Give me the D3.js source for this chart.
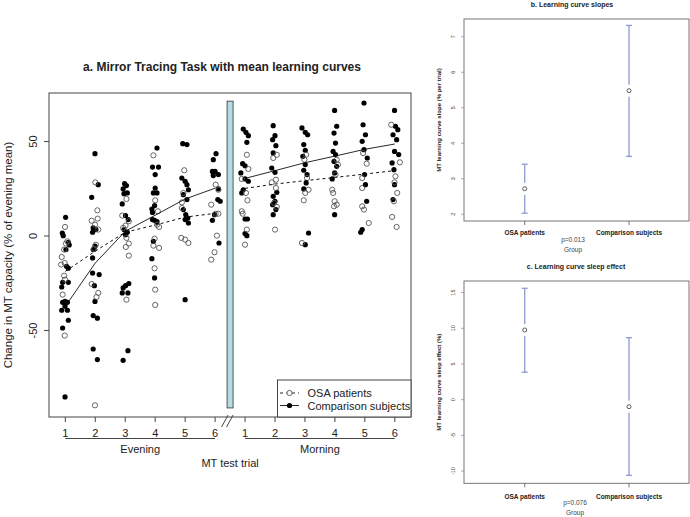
<!DOCTYPE html>
<html>
<head>
<meta charset="utf-8">
<script src="https://cdn.jsdelivr.net/npm/d3@7"></script>
<style>
  body { margin: 0; background: #fff; }
  text { font-family: "Liberation Sans", Arial, sans-serif; fill: #222; }
</style>
</head>
<body>
<svg id="chart" width="690" height="517"></svg>
<script>
// Trial positions: 1-6 evening, 7-12 morning
const trialPos = [1, 2, 3, 4, 5, 6, 7, 8, 9, 10, 11, 12];
const trialLabels = ["1", "2", "3", "4", "5", "6", "1", "2", "3", "4", "5", "6"];
const sessions = ["Evening", "Morning"];
const yTicksMain = [-50, 0, 50];

// Mean learning curves (% of evening mean)
const osaMean = [-18.7, -8, 2.0, 5.8, 10, 12, 25.2, 27.5, 29.3, 31, 32.8, 34.6];
const compMean = [-37.2, -14.3, 2.5, 11, 19.6, 25.3, 30.5, 34.6, 38.8, 42.3, 45.9, 48.7];

// Individual points [jittered trial, value]
const osaPts = [
  [0.99,4.8],[1.07,-2.8],[1.02,-4],[0.96,-7.2],[0.88,-11.1],[0.86,-15.1],[0.98,-14.3],[0.96,-21],[0.99,-23.1],[0.91,-31],[0.98,-52.7],
  [2.0,28.4],[2.07,13.6],[2.08,9.2],[1.88,8.1],[2.10,3.4],[1.99,6],[2.02,-4.6],[1.96,-6.9],[2.10,-30.1],[2.04,-32.3],[1.88,-25.4],[1.99,-89.6],
  [3.04,19.6],[2.90,10.8],[3.12,7.8],[3.01,5.5],[2.93,4.3],[3.04,-1],[3.12,-4],[3.02,-5.8],[3.12,-10.4],[3.04,-33.7],
  [3.94,42.7],[4.0,18.9],[4.09,13.1],[4.06,6],[4.13,4.8],[3.98,-1.4],[3.94,-5.1],[4.13,-6.3],[3.98,-17.1],[4.0,-28.4],[4.0,-36.5],
  [4.97,34.8],[4.94,22.8],[4.89,17.8],[4.89,14.8],[4.87,-1],[5.0,-1.9],[5.11,-3.7],
  [6.02,27.2],[6.11,24.5],[5.87,16.6],[6.02,11.8],[6.11,11.8],[6.06,0.2],[5.98,-8.6],[5.87,-12.5],
  [7.06,43],[7.11,35.5],[6.89,30.2],[7.03,22.8],[7.08,18.9],[6.89,13.1],[6.92,11.8],[7.06,3.4],[7.0,-4.6],
  [7.94,41.3],[8.06,43],[8.03,29.8],[7.89,28.4],[8.03,25.4],[7.97,17.5],[8.06,15.4],[8.0,3.4],
  [9.04,43],[8.98,40.4],[9.07,30.7],[9.12,24.5],[9.01,22.8],[8.96,18.9],[8.9,-3.7],
  [10.06,40.4],[10.1,37.8],[10.02,32.5],[9.91,24.5],[9.94,22.8],[9.99,18.4],[10.06,16.6],[9.97,15.7],
  [10.94,43.9],[11.06,38.3],[10.91,30.7],[10.91,25.4],[10.91,15.7],[10.97,14],[11.13,6.9],
  [11.88,58.9],[12.17,39],[12.02,31.6],[11.99,28.4],[11.97,18.4],[12.08,22.8],[11.91,10.1],[12.06,4.8]
];
const compPts = [
  [1.01,9.9],[0.90,1.6],[0.93,0.2],[1.10,-3.3],[1.13,-4.7],[1.02,-7.2],[1.04,-16],[1.10,-17],[0.91,-24.5],[1.10,-24.5],[0.88,-27],[0.99,-34.6],[0.91,-35.1],[1.07,-35.1],[0.99,-37.2],[0.88,-39.3],[1.07,-39.3],[1.10,-44.6],[0.91,-48.7],[0.99,-85.2],
  [1.99,43.6],[2.10,27.2],[1.88,20.5],[1.93,4.3],[2.02,3.4],[1.91,2],[1.99,-5.4],[1.93,-7.2],[1.91,-11.6],[1.91,-19.6],[2.13,-20.4],[1.97,-26.3],[1.99,-34.6],[1.93,-42.1],[2.07,-43.5],[1.93,-59.8],[2.07,-65.4],
  [2.98,27.7],[3.04,26.7],[2.93,24.9],[3.07,22.8],[2.96,22.4],[2.90,17],[3.01,10.8],[3.10,8.7],[2.96,3.4],[3.07,2],[3.01,0.7],[2.93,-27.5],[3.01,-26.3],[3.12,-25.2],[2.90,-30.1],[3.09,-30.1],[3.09,-60.7],[2.93,-65.8],
  [4.06,46.6],[3.91,36.5],[4.11,36.5],[4.0,32.5],[4.0,25.4],[3.94,22.8],[4.06,22.8],[3.98,16.1],[3.89,14.3],[3.91,12.5],[3.91,8.7],[3.98,8.3],[4.06,7.6],[3.94,-2.8],[3.89,-12],[3.98,-22.2],
  [4.92,48.9],[5.06,48.4],[4.89,30.7],[5.0,29],[5.06,27.2],[5.11,24.5],[4.94,21.9],[5.06,19.3],[4.94,14],[5.02,11.3],[5.09,9.5],[5.0,8.7],[5.11,6.9],[5.0,-33.7],
  [6.03,43.6],[5.94,40.4],[5.91,34.2],[6.0,34.2],[6.11,32.5],[5.94,32],[6.11,24.9],[6.09,19.3],[6.17,18.4],[5.98,11.3],[5.91,8.3],[6.13,-3.7],
  [6.94,56.6],[7.03,54.9],[7.11,53.1],[7.06,49.6],[6.92,38.3],[7.0,37.2],[6.86,33.4],[7.0,30.2],[7.11,29],[6.94,24.5],[6.89,22.8],[7.0,9],[7.08,9],[7.0,1.3],[7.06,0.2],
  [7.94,58.4],[8.0,53.1],[7.92,51],[8.03,47.8],[7.94,44],[7.89,36],[8.0,33.7],[8.06,23.1],[7.94,21],[8.0,18.4],[7.92,16.6],[8.03,14],[7.94,11.3],
  [8.9,57.2],[9.01,54.9],[9.09,53.6],[8.96,48.4],[9.01,45.4],[8.93,42.2],[9.01,37.8],[8.96,34.8],[9.07,32.5],[9.04,28.1],[8.96,24.9],[9.12,1.6],[9.01,-4.6],
  [9.99,66.5],[10.06,58.1],[9.97,54.5],[10.02,49.2],[9.94,44.8],[10.02,43.1],[9.97,39.5],[10.06,36.9],[9.99,33.4],[9.91,30.2],[9.99,11.3],
  [10.97,70.4],[10.94,58.9],[11.02,53.6],[10.91,50.1],[10.97,45.7],[11.08,41.3],[10.99,32.5],[11.02,27.2],[11.06,18.4],[10.91,3.4],[10.86,2],
  [11.99,66.5],[12.02,58.1],[12.1,56.3],[11.94,53.6],[12.06,51],[11.99,44.8],[12.13,43.1],[11.91,38.7],[11.97,35.1],[11.99,27.2],[11.94,19.3]
];

// Panel b / c: group means with confidence intervals
const groups = ["OSA patients", "Comparison subjects"];
const slopeMean = [2.72, 5.48];
const slopeLow = [2.03, 3.63];
const slopeHigh = [3.41, 7.32];
const sleepMean = [9.76, -0.98];
const sleepLow = [3.84, -10.6];
const sleepHigh = [15.6, 8.68];

const svg = d3.select("#chart");

// ---------- a. main panel ----------
const x = d3.scaleLinear().domain([0.455, 12.54]).range([49, 411]);
const y = d3.scaleLinear().domain([-95.8, 75.7]).range([417, 93]);

svg.append("text")
    .attr("x", 222).attr("y", 71)
    .attr("text-anchor", "middle")
    .style("font-size", "12px").style("font-weight", "bold")
    .text("a. Mirror Tracing Task with mean learning curves");

const main = svg.append("g");

// session break bar
main.append("rect")
    .attr("x", x(6.5) - 3).attr("width", 6)
    .attr("y", y(71.4)).attr("height", y(-91) - y(71.4))
    .attr("fill", "#b3dde2").attr("stroke", "#333").attr("stroke-width", 0.8);

// points
main.selectAll("circle.comp")
    .data(compPts)
    .join("circle")
    .attr("class", "comp")
    .attr("cx", d => x(d[0])).attr("cy", d => y(d[1]))
    .attr("r", 2.6).attr("fill", "#000");

main.selectAll("circle.osa")
    .data(osaPts)
    .join("circle")
    .attr("class", "osa")
    .attr("cx", d => x(d[0])).attr("cy", d => y(d[1]))
    .attr("r", 2.6).attr("fill", "none")
    .attr("stroke", "#555").attr("stroke-width", 0.9);

// mean curves, drawn separately for evening and morning
const line = d3.line().x(d => x(d[0])).y(d => y(d[1]));
[[0, 6], [6, 12]].forEach(([a, b]) => {
    main.append("path")
        .attr("d", line(trialPos.slice(a, b).map((t, i) => [t, compMean[a + i]])))
        .attr("fill", "none").attr("stroke", "#111").attr("stroke-width", 0.9);
    main.append("path")
        .attr("d", line(trialPos.slice(a, b).map((t, i) => [t, osaMean[a + i]])))
        .attr("fill", "none").attr("stroke", "#111").attr("stroke-width", 1)
        .attr("stroke-dasharray", "3,3");
});

// frame
main.append("rect")
    .attr("x", 49).attr("y", 93).attr("width", 362).attr("height", 324)
    .attr("fill", "none").attr("stroke", "#444").attr("stroke-width", 1);

// y axis
yTicksMain.forEach(v => {
    main.append("line")
        .attr("x1", 44).attr("x2", 49).attr("y1", y(v)).attr("y2", y(v))
        .attr("stroke", "#444");
    main.append("text")
        .attr("transform", `translate(37,${y(v)}) rotate(-90)`)
        .attr("text-anchor", "middle")
        .style("font-size", "11px")
        .text(v);
});
svg.append("text")
    .attr("transform", "translate(12,255) rotate(-90)")
    .attr("text-anchor", "middle")
    .style("font-size", "11.5px")
    .text("Change in MT capacity (% of evening mean)");

// x axis
trialPos.forEach((t, i) => {
    main.append("line")
        .attr("x1", x(t)).attr("x2", x(t)).attr("y1", 417).attr("y2", 422)
        .attr("stroke", "#444");
    main.append("text")
        .attr("x", x(t)).attr("y", 437)
        .attr("text-anchor", "middle")
        .style("font-size", "11px")
        .text(trialLabels[i]);
});
sessions.forEach((s, i) => {
    const a = trialPos[i * 6], b = trialPos[i * 6 + 5];
    main.append("line")
        .attr("x1", x(a)).attr("x2", x(b)).attr("y1", 438.5).attr("y2", 438.5)
        .attr("stroke", "#444");
    main.append("text")
        .attr("x", x((a + b) / 2)).attr("y", 452.5)
        .attr("text-anchor", "middle")
        .style("font-size", "11px")
        .text(s);
});
svg.append("text")
    .attr("x", x(6.5)).attr("y", 467)
    .attr("text-anchor", "middle")
    .style("font-size", "11px")
    .text("MT test trial");

// axis break marks
const xc = x(6.5);
[[-8.5, -2], [-3.5, 3]].forEach(([a, b]) => {
    main.append("line")
        .attr("x1", xc + a).attr("y1", 427).attr("x2", xc + b).attr("y2", 415)
        .attr("stroke", "#333").attr("stroke-width", 0.9);
});

// legend
const leg = main.append("g");
leg.append("rect")
    .attr("x", 277.5).attr("y", 380).attr("width", 133.5).attr("height", 37)
    .attr("fill", "#fff").attr("stroke", "#444");
const legItems = [
    { label: "OSA patients", dash: "3,3", fill: "none", stroke: "#555", yy: 393 },
    { label: "Comparison subjects", dash: null, fill: "#000", stroke: "none", yy: 405.5 }
];
legItems.forEach(d => {
    leg.append("line")
        .attr("x1", 280).attr("x2", 299).attr("y1", d.yy).attr("y2", d.yy)
        .attr("stroke", "#111").attr("stroke-width", 0.9)
        .attr("stroke-dasharray", d.dash);
    leg.append("circle")
        .attr("cx", 289.5).attr("cy", d.yy).attr("r", 2.6)
        .attr("fill", d.fill === "none" ? "#fff" : d.fill)
        .attr("stroke", d.stroke).attr("stroke-width", 0.9);
    leg.append("text")
        .attr("x", 307.5).attr("y", d.yy + 4)
        .style("font-size", "11px")
        .text(d.label);
});

// ---------- b / c. CI panels ----------
function ciPanel(opts) {
    const g = svg.append("g");
    const px = d3.scaleLinear().domain([0.418, 2.575]).range([464, 689]);
    const py = d3.scaleLinear().domain(opts.domain).range([opts.bottom, opts.top]);

    g.append("text")
        .attr("x", opts.titleX).attr("y", opts.titleY)
        .attr("text-anchor", "middle")
        .style("font-size", "7px").style("font-weight", "bold")
        .text(opts.title);

    g.append("rect")
        .attr("x", 464).attr("y", opts.top)
        .attr("width", 225).attr("height", opts.bottom - opts.top)
        .attr("fill", "none").attr("stroke", "#666").attr("stroke-width", 0.9);

    opts.ticks.forEach(v => {
        g.append("line")
            .attr("x1", 461).attr("x2", 464).attr("y1", py(v)).attr("y2", py(v))
            .attr("stroke", "#777").attr("stroke-width", 0.6);
        g.append("text")
            .attr("transform", `translate(455,${py(v)}) rotate(-90)`)
            .attr("text-anchor", "middle")
            .style("font-size", "5.5px").style("fill", "#444")
            .text(v);
    });

    g.append("text")
        .attr("transform", `translate(441,${(opts.top + opts.bottom) / 2}) rotate(-90)`)
        .attr("text-anchor", "middle")
        .style("font-size", "6px").style("font-weight", "bold")
        .text(opts.ylabel);

    groups.forEach((name, i) => {
        const cx = px(i + 1);
        g.append("line")
            .attr("x1", cx).attr("x2", cx).attr("y1", opts.bottom).attr("y2", opts.bottom + 4)
            .attr("stroke", "#555").attr("stroke-width", 0.8);
        g.append("text")
            .attr("x", cx).attr("y", opts.bottom + opts.labelDy)
            .attr("text-anchor", "middle")
            .style("font-size", "6.5px").style("font-weight", "bold")
            .text(name);

        const ym = py(opts.mean[i]), yl = py(opts.low[i]), yh = py(opts.high[i]);
        const col = "#8c9bcf";
        g.append("line").attr("x1", cx).attr("x2", cx).attr("y1", yh).attr("y2", ym - 6)
            .attr("stroke", col).attr("stroke-width", 1.3);
        g.append("line").attr("x1", cx).attr("x2", cx).attr("y1", ym + 6).attr("y2", yl)
            .attr("stroke", col).attr("stroke-width", 1.3);
        [yh, yl].forEach(yy => {
            g.append("line").attr("x1", cx - 3).attr("x2", cx + 3).attr("y1", yy).attr("y2", yy)
                .attr("stroke", col).attr("stroke-width", 1.3);
        });
        g.append("circle")
            .attr("cx", cx).attr("cy", ym).attr("r", 2)
            .attr("fill", "none").attr("stroke", "#333").attr("stroke-width", 0.8);
    });

    g.append("text")
        .attr("x", opts.pX).attr("y", opts.bottom + opts.pDy)
        .attr("text-anchor", "middle")
        .style("font-size", "6.5px").style("fill", "#444")
        .text(opts.p);
    g.append("text")
        .attr("x", opts.pX).attr("y", opts.bottom + opts.groupDy)
        .attr("text-anchor", "middle")
        .style("font-size", "6.5px").style("fill", "#444")
        .text("Group");
}

ciPanel({
    title: "b. Learning curve slopes", titleX: 572, titleY: 6.5,
    top: 19, bottom: 221, domain: [1.81, 7.50], ticks: [2, 3, 4, 5, 6, 7],
    ylabel: "MT learning curve slope (% per trial)",
    mean: slopeMean, low: slopeLow, high: slopeHigh,
    p: "p=0.013", pX: 573, labelDy: 14, pDy: 20.5, groupDy: 30.5
});

ciPanel({
    title: "c. Learning curve sleep effect", titleX: 576, titleY: 268.5,
    top: 281, bottom: 483.3, domain: [-11.71, 16.62], ticks: [-10, -5, 0, 5, 10, 15],
    ylabel: "MT learning curve sleep effect (%)",
    mean: sleepMean, low: sleepLow, high: sleepHigh,
    p: "p=0.076", pX: 575, labelDy: 15.5, pDy: 22, groupDy: 31.5
});
</script>
</body>
</html>
